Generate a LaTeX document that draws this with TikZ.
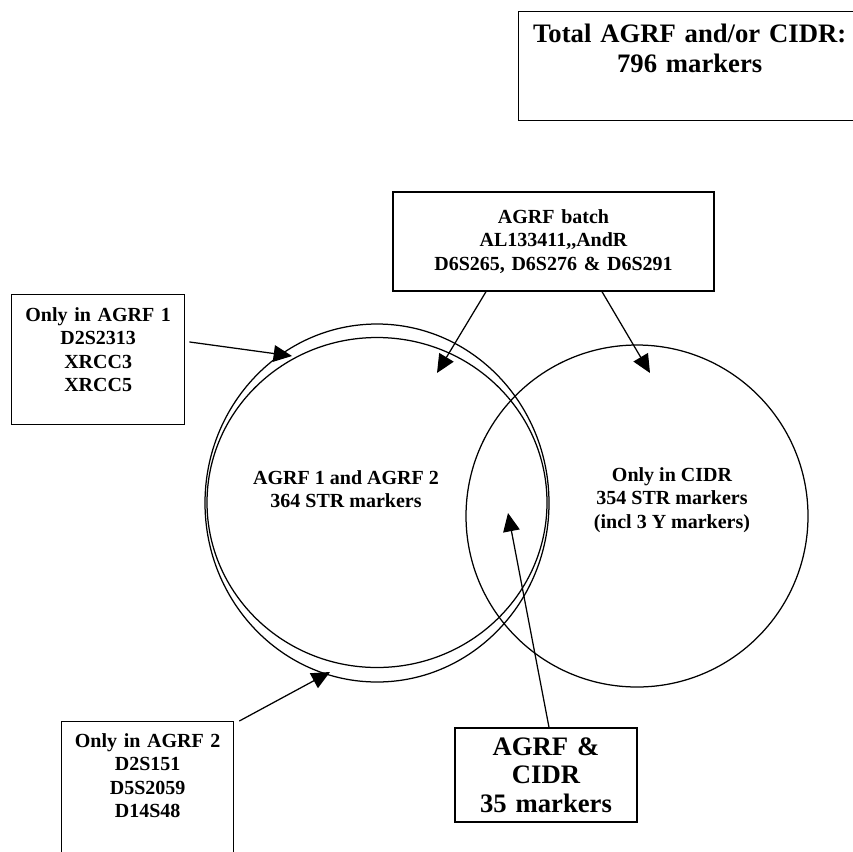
\documentclass[tikz,border=0pt]{standalone}
\usepackage{fontspec}
\setmainfont{Liberation Serif}
\usetikzlibrary{arrows.meta}
\tikzset{
>={Triangle[length=11pt, width=10pt]}, % filled arrow heads
box/.style={draw, line width=0.8pt, align=center, inner xsep=0pt, font=\fontsize{12}{14}\selectfont\bfseries}, % the text boxes
bigbox/.style={box, font=\fontsize{16}{18}\selectfont\bfseries}, % boxes with the larger text
inside/.style={align=center, inner sep=0pt, font=\fontsize{12}{14}\selectfont\bfseries}, % text inside the circles
ring/.style={line width=0.75pt}, % the circles
pointer/.style={->, line width=0.75pt}, % the arrows
}

\begin{document}
\begin{tikzpicture}[x=0.6pt, y=-0.6pt]
    \useasboundingbox (0,0) rectangle (853,851);
    % Circles
    \coordinate (agrf) at (377,503);
    \coordinate (cidr) at (637,516);
    \draw[ring] (agrf) ellipse [x radius=103.2pt, y radius=107.4pt];
    \draw[ring] ([yshift=0.3pt]agrf) ellipse [x radius=102pt, y radius=99pt];
    \draw[ring] (cidr) circle [radius=102.6pt];
    \node[inside] (agrfboth) at (346,489) {AGRF 1 and AGRF 2\\364 STR markers};
    \node[inside] (cidronly) at (672,500) {Only in CIDR\\354 STR markers\\(incl 3 Y markers)};
    % Boxes
    \node[bigbox, text width=205.2pt, inner ysep=7.5pt, anchor=north west] (total) at (518,11) {Total AGRF and/or CIDR:\\796 markers\\[3pt]\mbox{}};
    \node[box, text width=192.6pt, minimum height=59.4pt] (batch) at (553.5,241.5) {AGRF batch\\AL133411,\kern0pt,AndR\\D6S265, D6S276 \& D6S291};
    \node[box, text width=103.8pt, inner ysep=7.7pt, anchor=north west] (agrfone) at (11,294) {Only in AGRF 1\\D2S2313\\XRCC3\\XRCC5\\[-2pt]\mbox{}};
    \node[box, text width=103.2pt, inner ysep=7.1pt, anchor=north west] (agrftwo) at (61,721) {Only in AGRF 2\\D2S151\\D5S2059\\D14S48\\[40pt]\mbox{}};
    \node[bigbox, font=\fontsize{16}{17}\selectfont\bfseries, text width=109.2pt, minimum height=56.4pt] (both) at (546,775) {AGRF \&\\CIDR\\35 markers};
    % Arrows
    \coordinate (tipone) at (292,356);
    \coordinate (tipleft) at (437,373);
    \coordinate (tipright) at (650,373);
    \coordinate (tiptwo) at (330,672);
    \coordinate (tipboth) at (508,513);
    \draw[pointer] ([xshift=2.4pt, yshift=10.5pt]agrfone.east) -- (tipone);
    \draw[pointer] ([xshift=-40.5pt]batch.south) -- (tipleft);
    \draw[pointer] ([xshift=29.1pt]batch.south) -- (tipright);
    \draw[pointer] ([xshift=3pt]agrftwo.north east) -- (tiptwo);
    \draw[pointer] ([xshift=1.8pt]both.north) -- (tipboth);
\end{tikzpicture}
\end{document}
